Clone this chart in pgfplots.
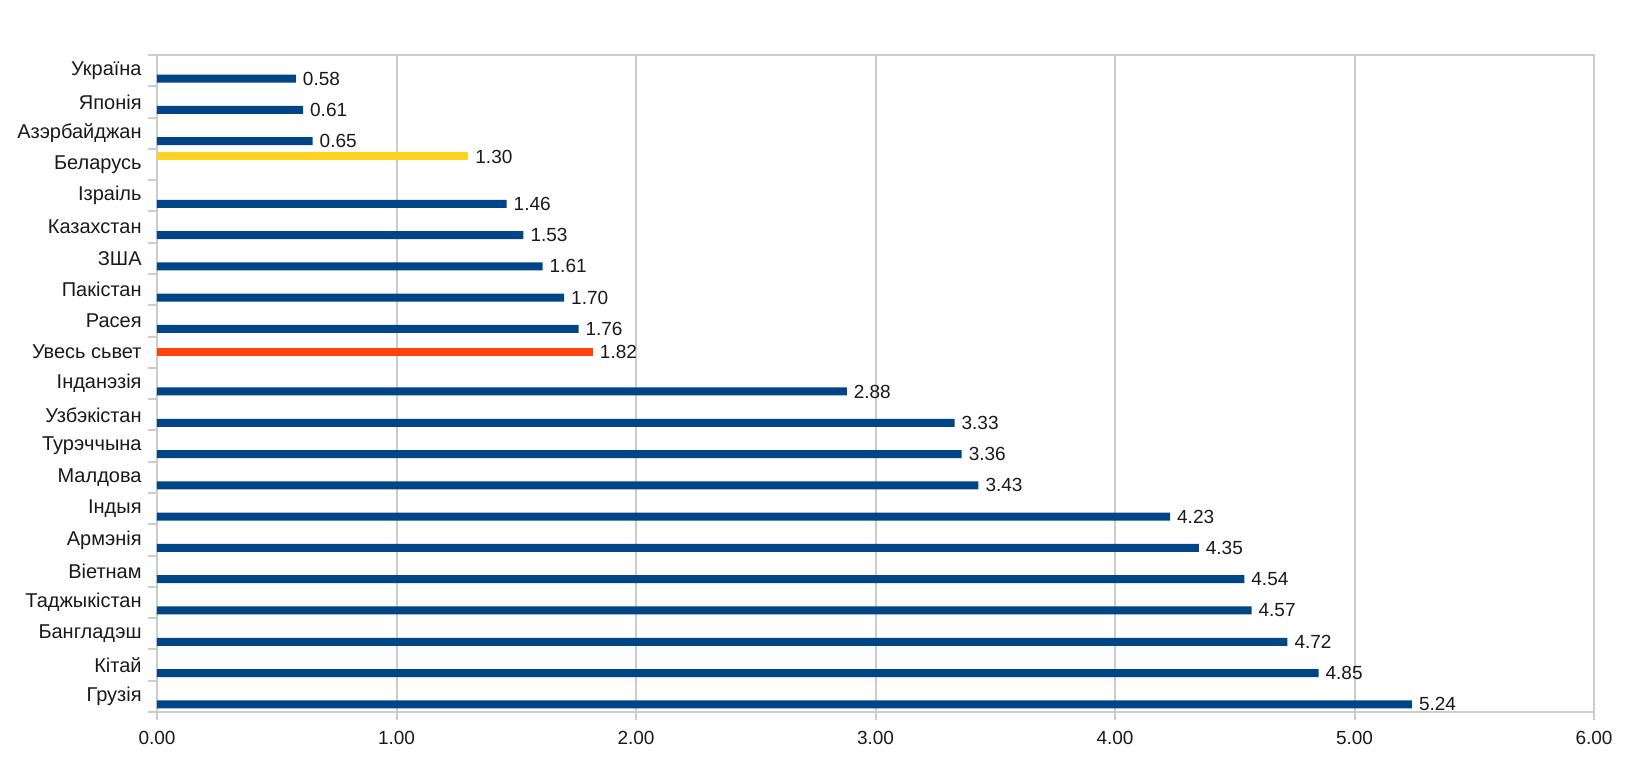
\documentclass[border=0pt]{standalone}
\usepackage{fontspec}
\setmainfont{Liberation Sans}
\usepackage{pgfplots}
\pgfplotsset{compat=1.18}

\definecolor{barblue}{HTML}{004586}
\definecolor{baryellow}{HTML}{FFD320}
\definecolor{barred}{HTML}{FF420E}
\definecolor{gridgray}{HTML}{CCCCCC}

\begin{document}
\begin{tikzpicture}
	\begin{axis}[
			name=ax,
			scale only axis,
			width=718.5pt, height=328.5pt,
			xbar, bar width=4pt,
			xmin=0, xmax=6,
			ymin=-0.5, ymax=20.5,
			xtick={0,1,...,6},
			xtick pos=bottom,
			ytick pos=left,
			tick align=outside,
			major x tick style={gridgray, line width=1pt},
			major tick length=4pt,
			ytick={0,...,20},
			yticklabels={Грузія,Кітай,Бангладэш,Таджыкістан,Віетнам,Армэнія,Індыя,Малдова,Турэччына,Узбэкістан,Інданэзія,Увесь сьвет,Расея,Пакістан,ЗША,Казахстан,Ізраіль,Беларусь,Азэрбайджан,Японія,Україна},
			major y tick style={draw=none},
			minor ytick={-0.5,0.5,...,20.5},
			minor y tick style={gridgray, line width=1pt},
			minor tick length=4.5pt,
			xmajorgrids,
			grid style={gridgray, line width=1pt},
			axis line style={gridgray, line width=1pt},
			/pgf/number format/assume math mode=true,
			tick label style={font=\fontsize{9.5}{11}\selectfont, text=black!90},
			xticklabel style={/pgf/number format/fixed, /pgf/number format/zerofill, /pgf/number format/precision=2, yshift=-2pt},
			yticklabel style={font=\fontsize{10}{12}\selectfont, inner sep=0pt, xshift=-3.5pt},
			nodes near coords={\pgfmathprintnumber[fixed,zerofill,precision=2]{\pgfplotspointmeta}},
			nodes near coords style={font=\fontsize{9.5}{11}\selectfont, text=black!90, anchor=west},
		]
		% blue: countries
		\addplot[fill=barblue, draw=none, bar shift=-4pt]
		coordinates {
				(5.24,0)(4.85,1)(4.72,2)(4.57,3)(4.54,4)(4.35,5)(4.23,6)(3.43,7)(3.36,8)(3.33,9)(2.88,10)
				(1.76,12)(1.70,13)(1.61,14)(1.53,15)(1.46,16)(0.65,18)(0.61,19)(0.58,20)
			};
		% red: whole world
		\addplot[fill=barred, draw=none, bar shift=0pt]
		coordinates {(1.82,11)};
		% yellow: Belarus
		\addplot[fill=baryellow, draw=none, bar shift=4pt]
		coordinates {(1.30,17)};
	\end{axis}
	\pgfresetboundingbox
	\path[use as bounding box] ([shift={(-78.5pt,-28.5pt)}]ax.south west) rectangle ([shift={(27pt,27.5pt)}]ax.north east);
\end{tikzpicture}
\end{document}
